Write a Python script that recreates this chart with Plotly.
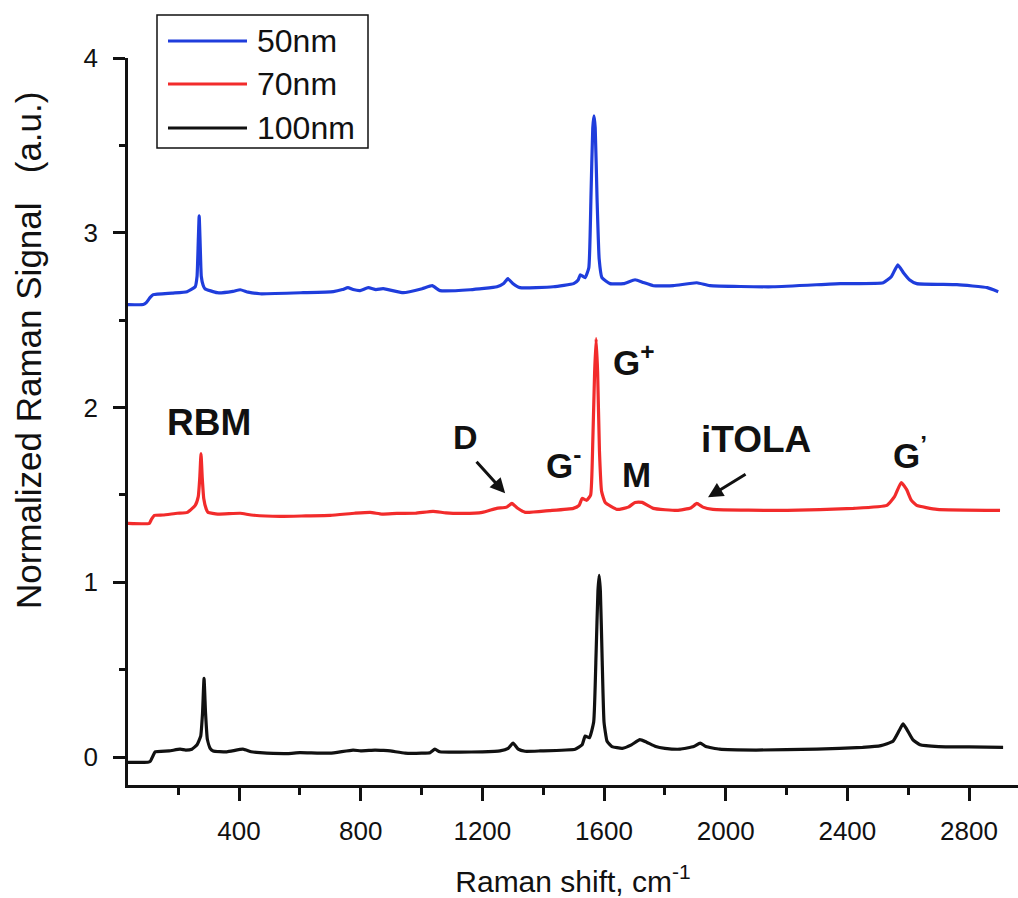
import plotly.graph_objects as go

# Raman spectra of nanotube samples (offset vertically for clarity)
x_50nm = [35, 85, 95, 108, 118, 180, 229, 256, 262, 266, 269, 272, 276, 282, 288, 328, 380, 404, 430, 469,
          611, 710, 740, 758, 775, 798, 825, 850, 874, 940, 1002, 1035, 1061, 1160, 1248, 1270, 1284, 1300,
          1324, 1433, 1500, 1515, 1522, 1538, 1550, 1557, 1563, 1567, 1571, 1577, 1584, 1593, 1620, 1664,
          1702, 1730, 1762, 1828, 1905, 1948, 2156, 2377, 2518, 2545, 2566, 2585, 2605, 2628, 2760, 2860, 2896]
y_50nm = [2.589, 2.589, 2.60, 2.63, 2.646, 2.655, 2.663, 2.691, 2.75, 2.95, 3.097, 2.95, 2.75, 2.70, 2.68,
          2.657, 2.665, 2.674, 2.66, 2.651, 2.657, 2.663, 2.675, 2.686, 2.675, 2.669, 2.686, 2.675, 2.68,
          2.657, 2.68, 2.697, 2.669, 2.674, 2.691, 2.71, 2.737, 2.71, 2.686, 2.691, 2.709, 2.73, 2.76,
          2.743, 2.80, 3.20, 3.60, 3.669, 3.60, 3.20, 2.85, 2.743, 2.709, 2.709, 2.731, 2.715, 2.697,
          2.697, 2.714, 2.697, 2.691, 2.709, 2.714, 2.75, 2.817, 2.77, 2.73, 2.709, 2.703, 2.686, 2.663]

x_70nm = [35, 105, 112, 122, 150, 197, 230, 256, 266, 271, 275, 279, 284, 292, 298, 330, 404, 440, 535, 620,
          700, 780, 831, 870, 919, 980, 1038, 1080, 1137, 1200, 1247, 1280, 1297, 1315, 1341, 1420, 1499,
          1518, 1528, 1543, 1556, 1563, 1569, 1574, 1579, 1585, 1592, 1604, 1643, 1680, 1702, 1725, 1762,
          1840, 1885, 1905, 1925, 1958, 2202, 2420, 2530, 2555, 2577, 2595, 2610, 2628, 2695, 2902]
y_70nm = [1.337, 1.337, 1.36, 1.383, 1.385, 1.395, 1.40, 1.44, 1.49, 1.60, 1.737, 1.60, 1.48, 1.42, 1.40,
          1.39, 1.395, 1.385, 1.377, 1.38, 1.383, 1.395, 1.40, 1.39, 1.394, 1.395, 1.406, 1.397, 1.394,
          1.40, 1.423, 1.43, 1.451, 1.425, 1.40, 1.41, 1.423, 1.44, 1.48, 1.469, 1.50, 1.80, 2.20, 2.394,
          2.20, 1.75, 1.52, 1.457, 1.417, 1.43, 1.457, 1.457, 1.423, 1.411, 1.425, 1.451, 1.43, 1.417,
          1.411, 1.423, 1.44, 1.49, 1.571, 1.53, 1.47, 1.44, 1.417, 1.411]

x_100nm = [35, 100, 108, 118, 124, 170, 206, 225, 245, 262, 274, 280, 285, 290, 296, 305, 315, 360, 413, 440,
           469, 560, 600, 699, 775, 800, 847, 875, 897, 946, 1000, 1028, 1044, 1060, 1127, 1200, 1258, 1285,
           1301, 1318, 1340, 1390, 1505, 1528, 1538, 1552, 1566, 1574, 1580, 1584, 1588, 1594, 1600, 1610,
           1626, 1660, 1690, 1718, 1740, 1770, 1800, 1850, 1895, 1916, 1935, 1980, 2100, 2300, 2450, 2510,
           2550, 2570, 2583, 2595, 2615, 2639, 2700, 2800, 2912]
y_100nm = [-0.03, -0.03, -0.025, 0.01, 0.03, 0.035, 0.045, 0.04, 0.045, 0.07, 0.12, 0.25, 0.45, 0.25, 0.10,
           0.05, 0.035, 0.03, 0.045, 0.03, 0.025, 0.02, 0.025, 0.022, 0.04, 0.035, 0.04, 0.038, 0.035, 0.022,
           0.022, 0.025, 0.045, 0.03, 0.028, 0.03, 0.035, 0.05, 0.08, 0.045, 0.033, 0.035, 0.045, 0.07, 0.12,
           0.11, 0.20, 0.60, 0.95, 1.04, 0.95, 0.55, 0.20, 0.09, 0.06, 0.05, 0.07, 0.10, 0.085, 0.06, 0.05,
           0.045, 0.06, 0.08, 0.06, 0.045, 0.04, 0.045, 0.055, 0.065, 0.09, 0.15, 0.19, 0.16, 0.10, 0.07,
           0.06, 0.058, 0.055]

series_names = ["50nm", "70nm", "100nm"]
series_colors = ["#1f3ddc", "#f22b2b", "#111111"]

# Peak labels and their positions (cm^-1, signal)
peak_labels = ["RBM", "D", "G<sup>-</sup>", "G<sup>+</sup>", "M", "iTOLA", "G<sup>’</sup>"]
peak_label_x = [302, 1146, 1468, 1700, 1708, 2100, 2605]
peak_label_y = [1.914, 1.834, 1.68, 2.27, 1.617, 1.817, 1.74]
peak_label_size = [37, 34, 35, 35, 35, 37, 35]

# Arrows: head position and tail offset in pixels
arrow_x = [1275, 1942]
arrow_y = [1.509, 1.486]
arrow_ax = [-30, 39]
arrow_ay = [-33, -24]

W, H = 1018, 898
ML, MR, MT, MB = 128, 0, 58, 113
PW, PH = W - ML - MR, H - MT - MB


def px(xp):
    return (xp - ML) / PW


def py(yp):
    return (H - MB - yp) / PH


FONT = "Arial, Liberation Sans, sans-serif"

fig = go.Figure()
for xs, ys, name, col in zip([x_50nm, x_70nm, x_100nm], [y_50nm, y_70nm, y_100nm],
                             series_names, series_colors):
    fig.add_trace(go.Scatter(x=xs, y=ys, mode="lines", name=name,
                             line=dict(color=col, width=3.2, shape="spline", smoothing=0.4),
                             showlegend=False))

annotations = []
for t, xv, yv, fs in zip(peak_labels, peak_label_x, peak_label_y, peak_label_size):
    annotations.append(dict(x=xv, y=yv, xref="x", yref="y", text="<b>" + t + "</b>", showarrow=False,
                            font=dict(family=FONT, size=fs, color="#111111"),
                            xanchor="center", yanchor="middle"))
for xv, yv, axv, ayv in zip(arrow_x, arrow_y, arrow_ax, arrow_ay):
    annotations.append(dict(x=xv, y=yv, xref="x", yref="y", ax=axv, ay=ayv, text="",
                            showarrow=True, arrowhead=2, arrowsize=1, arrowwidth=3,
                            arrowcolor="#111111"))

# y-axis title
annotations.append(dict(x=px(29), y=py(351), xref="paper", yref="paper",
                        text="Normalized Raman Signal\u00a0\u00a0\u00a0(a.u.)", textangle=-90,
                        showarrow=False, font=dict(family=FONT, size=35, color="#111111"),
                        xanchor="center", yanchor="middle"))

# legend box drawn by hand
shapes = [dict(type="rect", xref="paper", yref="paper", x0=px(157), x1=px(368), y0=py(148), y1=py(15),
               line=dict(color="#111111", width=1.5), fillcolor="white")]
legend_rows = [41, 84, 128]
for name, col, yr in zip(series_names, series_colors, legend_rows):
    shapes.append(dict(type="line", xref="paper", yref="paper", x0=px(168), x1=px(247),
                       y0=py(yr), y1=py(yr), line=dict(color=col, width=3)))
    annotations.append(dict(x=px(255), y=py(yr), xref="paper", yref="paper", text=name,
                            showarrow=False, xanchor="left", yanchor="middle",
                            font=dict(family=FONT, size=32, color="#111111")))

fig.update_layout(
    width=W, height=H,
    margin=dict(l=ML, r=MR, t=MT, b=MB, pad=0),
    paper_bgcolor="white", plot_bgcolor="white",
    showlegend=False,
    annotations=annotations,
    shapes=shapes,
    xaxis=dict(range=[35, 2961], tickvals=[400, 800, 1200, 1600, 2000, 2400, 2800],
               ticks="outside", ticklen=13, tickwidth=2.5, tickcolor="#111111",
               minor=dict(tickvals=[200, 600, 1000, 1400, 1800, 2200, 2600], ticks="outside",
                          ticklen=7, tickwidth=2.5, tickcolor="#111111"),
               showline=True, linewidth=2.5, linecolor="#111111", showgrid=False, zeroline=False,
               tickfont=dict(family=FONT, size=26, color="#111111"), ticklabelstandoff=8,
               title=dict(text="Raman shift, cm<sup>-1</sup>", standoff=28,
                          font=dict(family=FONT, size=30, color="#111111"))),
    yaxis=dict(range=[-0.16, 4.0], tickvals=[0, 1, 2, 3, 4],
               ticks="outside", ticklen=12, tickwidth=2.5, tickcolor="#111111",
               minor=dict(tickvals=[0.5, 1.5, 2.5, 3.5], ticks="outside",
                          ticklen=6, tickwidth=2.5, tickcolor="#111111"),
               showline=True, linewidth=2.5, linecolor="#111111", showgrid=False, zeroline=False,
               tickfont=dict(family=FONT, size=26, color="#111111"), ticklabelstandoff=10),
)

fig.write_html("out.html")
